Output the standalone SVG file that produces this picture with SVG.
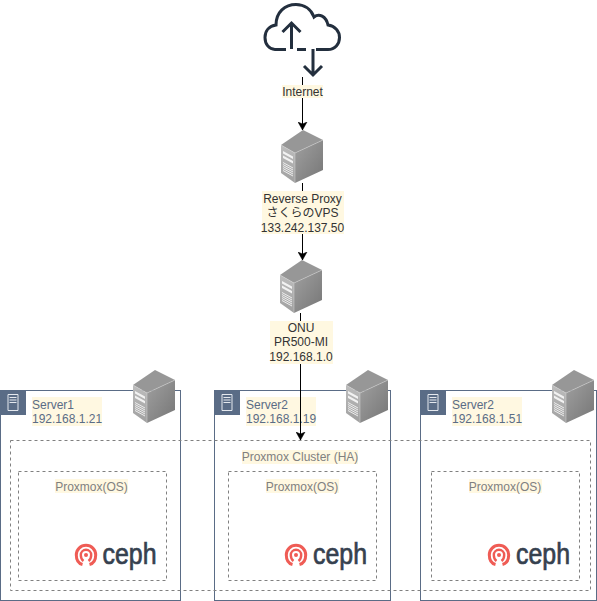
<svg xmlns="http://www.w3.org/2000/svg" width="597" height="601" viewBox="0 0 597 601">
<style>
text{font-family:"Liberation Sans","Noto Sans CJK JP",sans-serif;font-size:12px;text-anchor:middle}
.dark{fill:#333}
.srv{fill:#5A6C86;text-anchor:start}
.grey{fill:#808080}
.bg{fill:#FFF8E1}
.box{fill:none;stroke:#5A6C86;stroke-width:1}
.dash{fill:none;stroke:#808080;stroke-width:1;stroke-dasharray:3 3}
.edge{fill:none;stroke:#000;stroke-width:1;marker-end:url(#arrow)}
.ceph{font-size:29px;fill:#36414F;stroke:#36414F;stroke-width:0.7;text-anchor:start}
</style>
<defs>
<marker id="arrow" markerUnits="userSpaceOnUse" markerWidth="10" markerHeight="10" refX="8" refY="5" orient="auto">
<path d="M0 0.5L8 5L0 9.5L2 5Z" fill="#000" stroke="#000" stroke-width="0.5"/>
</marker>
<linearGradient id="front" x1="0" y1="0" x2="0" y2="1"><stop offset="0" stop-color="#BDBDBD"/><stop offset="1" stop-color="#A0A0A0"/></linearGradient>
<linearGradient id="side" x1="0" y1="0" x2="1" y2="1"><stop offset="0" stop-color="#A0A0A0"/><stop offset="1" stop-color="#767676"/></linearGradient>
<g id="server">
<path d="M0 15L22 0L42 10L14 23Z" fill="#979797"/>
<path d="M0 15L14 23V53L0 43Z" fill="url(#front)"/>
<path d="M14 23L42 10V40L14 53Z" fill="url(#side)"/>
<path d="M0 15L14 23L42 10M14 23V53" fill="none" stroke="#D0D0D0" stroke-width="0.5"/>
<path d="M2 21L12 26.500V29L2 23.500ZM2 25.500L12 31V33.500L2 28Z" fill="#F2F2F2"/>
<path d="M2 32.500L12 38M2 34.500L12 40M2 36.500L12 42M2 38.500L12 44M2 40.500L12 46" stroke="#EDEDED" stroke-width="1" fill="none"/>
</g>
<g id="cephmark" fill="none" stroke="#EF5C55">
<path d="M-3.500 10C-7.500 9 -9.700 5 -9.700 0.500A9.700 9.700 0 0 1 9.700 0.500C9.700 5 7.500 9 3.500 10" stroke-width="3"/>
<path d="M-2.500 6.500C-4.500 5 -5.200 3 -5.200 0.500A5.200 5.200 0 0 1 5.200 0.500C5.200 3 4.500 5 2.500 6.500" stroke-width="2.400"/>
<circle cx="0" cy="0.500" r="2" fill="#EF5C55" stroke="none"/>
</g>
</defs>

<g id="server1">
<rect class="box" x="0.500" y="390.500" width="180" height="210"/>
<rect x="0" y="390" width="26" height="25" fill="#5A6C86"/>
<path d="M8 394.500H18V410.500H8ZM9.500 397.500H16.500M9.500 400H16.500M9.500 402.500H16.500" fill="none" stroke="#E4E8EE" stroke-width="1"/>
<rect class="bg" x="32" y="397" width="70" height="29"/>
<text class="srv" x="32" y="409">Server1</text>
<text class="srv" x="32" y="423">192.168.1.21</text>
</g>
<g id="server2">
<rect class="box" x="214.500" y="390.500" width="176" height="210"/>
<rect x="214" y="390" width="26" height="25" fill="#5A6C86"/>
<path d="M222 394.500H232V410.500H222ZM223.500 397.500H230.500M223.500 400H230.500M223.500 402.500H230.500" fill="none" stroke="#E4E8EE" stroke-width="1"/>
<rect class="bg" x="246" y="397" width="70" height="29"/>
<text class="srv" x="246" y="409">Server2</text>
<text class="srv" x="246" y="423">192.168.1.19</text>
</g>
<g id="server3">
<rect class="box" x="420.500" y="390.500" width="176" height="210"/>
<rect x="420" y="390" width="26" height="25" fill="#5A6C86"/>
<path d="M428 394.500H438V410.500H428ZM429.500 397.500H436.500M429.500 400H436.500M429.500 402.500H436.500" fill="none" stroke="#E4E8EE" stroke-width="1"/>
<rect class="bg" x="452" y="397" width="70" height="29"/>
<text class="srv" x="452" y="409">Server2</text>
<text class="srv" x="452" y="423">192.168.1.51</text>
</g>

<g id="cluster">
<rect class="dash" x="10.500" y="440.500" width="580" height="150"/>
<rect class="bg" x="242" y="450" width="116" height="14"/>
<text class="grey" x="300" y="461">Proxmox Cluster (HA)</text>
</g>
<g id="proxmox1">
<rect class="dash" x="18.500" y="471.500" width="148" height="109"/>
<rect class="bg" x="55" y="479" width="73" height="14"/>
<text class="grey" x="91.500" y="491">Proxmox(OS)</text>
<use href="#cephmark" x="86" y="554.500"/>
<text class="ceph" x="102.500" y="564" textLength="54" lengthAdjust="spacingAndGlyphs">ceph</text>
</g>
<g id="proxmox2">
<rect class="dash" x="228.500" y="471.500" width="148" height="109"/>
<rect class="bg" x="266" y="479" width="73" height="14"/>
<text class="grey" x="302" y="491">Proxmox(OS)</text>
<use href="#cephmark" x="296" y="554.500"/>
<text class="ceph" x="313" y="564" textLength="54" lengthAdjust="spacingAndGlyphs">ceph</text>
</g>
<g id="proxmox3">
<rect class="dash" x="431.500" y="471.500" width="148" height="109"/>
<rect class="bg" x="469" y="479" width="73" height="14"/>
<text class="grey" x="505" y="491">Proxmox(OS)</text>
<use href="#cephmark" x="499" y="554.500"/>
<text class="ceph" x="516" y="564" textLength="54" lengthAdjust="spacingAndGlyphs">ceph</text>
</g>

<g id="connectors">
<path class="edge" d="M302.500 77V130"/>
<path class="edge" d="M302.500 183V260"/>
<path class="edge" d="M300.500 313V440"/>
</g>

<g id="internet">
<g fill="none" stroke="#232F3E" stroke-width="3">
<path d="M286 49.500H275C269 49.500 265 44 265 37.500C265 31 269 26 276 25C276 12 285 4.500 296 4.500C304 4.500 311 9 314 17C319 13 326 16 328 25C335 26 339.500 31 339.500 37.500C339.500 44 335 49.500 328 49.500H316M297 49.500H306"/>
<path d="M291.500 49V23M282.500 32L291.500 23L300.500 32"/>
<path d="M313 49V75M304 66L313 75L322 66"/>
</g>
<rect class="bg" x="282" y="85" width="41" height="13"/>
<text class="dark" x="302.500" y="96">Internet</text>
</g>
<g id="proxy">
<use href="#server" x="281" y="130"/>
<rect class="bg" x="262" y="191" width="82" height="43"/>
<text class="dark" x="302.500" y="203">Reverse Proxy</text>
<text class="dark" x="302.500" y="217">さくらのVPS</text>
<text class="dark" x="302.500" y="232">133.242.137.50</text>
</g>
<g id="onu">
<use href="#server" x="280" y="260"/>
<rect class="bg" x="270" y="321" width="63" height="43"/>
<text class="dark" x="301" y="332">ONU</text>
<text class="dark" x="301" y="346">PR500-MI</text>
<text class="dark" x="301" y="361">192.168.1.0</text>
</g>
<g id="server-icons">
<use href="#server" x="133" y="370"/>
<use href="#server" x="346" y="370"/>
<use href="#server" x="552" y="370"/>
</g>
</svg>
